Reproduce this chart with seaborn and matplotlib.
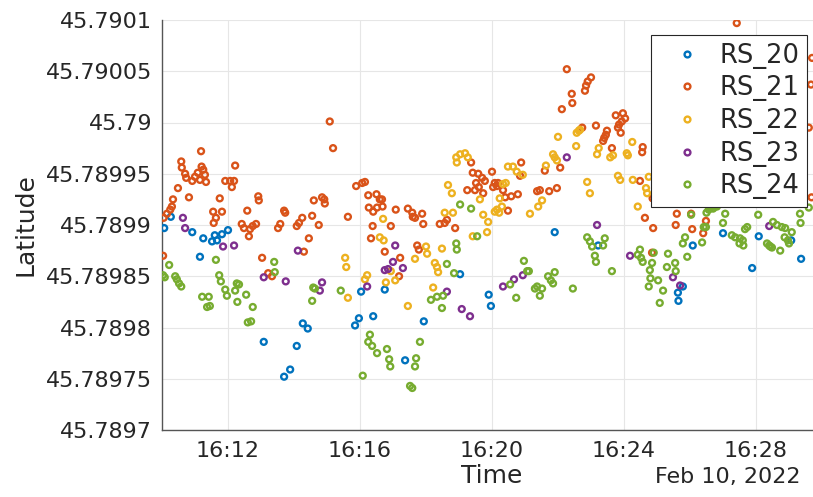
import matplotlib
matplotlib.use("Agg")
import matplotlib.pyplot as plt
import matplotlib.dates as mdates
from matplotlib.lines import Line2D
from matplotlib.ticker import FuncFormatter
import pandas as pd
import seaborn as sns

DAY = "2022-02-10"
SENSORS = ["RS_20", "RS_21", "RS_22", "RS_23", "RS_24"]
COLORS = ["#0072BD", "#D95319", "#EDB120", "#7E2F8E", "#77AC30"]
LAT_TICKS = [45.7897, 45.78975, 45.7898, 45.78985, 45.7899,
             45.78995, 45.79, 45.79005, 45.7901]

rs20_time = ["16:10:04", "16:10:16", "16:10:55", "16:11:15", "16:11:31", "16:11:40",
             "16:11:36", "16:11:49", "16:12:00", "16:11:09", "16:13:05", "16:13:42",
             "16:13:53", "16:14:05", "16:14:16", "16:14:25", "16:15:51", "16:15:58",
             "16:16:02", "16:16:24", "16:16:45", "16:17:22", "16:17:56", "16:19:02",
             "16:19:54", "16:19:58", "16:21:54", "16:23:13", "16:25:38", "16:25:39",
             "16:25:47", "16:26:05", "16:27:00", "16:27:53", "16:28:05", "16:29:04",
             "16:29:22"]
rs20_lat = [45.789897, 45.789908, 45.789893, 45.789887, 45.789884, 45.789885,
            45.789890, 45.789891, 45.789895, 45.789869, 45.789786, 45.789752,
            45.789759, 45.789782, 45.789804, 45.789799, 45.789802, 45.789809,
            45.789835, 45.789811, 45.789837, 45.789768, 45.789806, 45.789852,
            45.789832, 45.789821, 45.789893, 45.789880, 45.789834, 45.789826,
            45.789840, 45.789880, 45.789892, 45.789858, 45.789889, 45.789885,
            45.789867]

rs21_time = ["16:10:02", "16:10:03", "16:10:09", "16:10:15", "16:10:18", "16:10:20",
             "16:10:29", "16:10:35", "16:10:36", "16:10:42", "16:10:44", "16:10:49",
             "16:10:55", "16:11:00", "16:11:05", "16:11:09", "16:11:11", "16:11:12",
             "16:11:15", "16:11:18", "16:11:20", "16:11:33", "16:11:38", "16:11:34",
             "16:11:45", "16:11:49", "16:11:55", "16:12:04", "16:12:11", "16:12:07",
             "16:12:13", "16:12:35", "16:12:55", "16:12:56", "16:12:25", "16:12:29",
             "16:12:38", "16:12:40", "16:12:45", "16:12:51", "16:13:02", "16:13:13",
             "16:13:20", "16:13:31", "16:13:35", "16:13:42", "16:13:44", "16:14:05",
             "16:14:09", "16:14:15", "16:14:27", "16:14:18", "16:14:33", "16:14:36",
             "16:14:45", "16:14:51", "16:14:55", "16:14:56", "16:15:05", "16:15:11",
             "16:15:38", "16:15:53", "16:16:04", "16:16:09", "16:16:15", "16:16:16",
             "16:16:24", "16:16:31", "16:16:23", "16:16:20", "16:16:36", "16:16:30",
             "16:16:45", "16:17:13", "16:17:11", "16:16:56", "16:17:05", "16:16:40",
             "16:16:41", "16:17:27", "16:17:35", "16:17:36", "16:17:40", "16:17:53",
             "16:17:55", "16:17:44", "16:17:47", "16:18:25", "16:18:34", "16:18:38",
             "16:18:53", "16:19:15", "16:19:22", "16:19:25", "16:19:35", "16:19:42",
             "16:19:47", "16:19:31", "16:19:36", "16:19:29", "16:19:44", "16:20:00",
             "16:20:05", "16:20:09", "16:20:02", "16:20:11", "16:20:20", "16:20:24",
             "16:20:29", "16:20:35", "16:20:47", "16:20:53", "16:20:51", "16:21:22",
             "16:21:27", "16:21:44", "16:21:58", "16:22:04", "16:21:36", "16:22:07",
             "16:22:16", "16:22:25", "16:22:26", "16:22:49", "16:22:51", "16:22:54",
             "16:23:00", "16:22:44", "16:23:09", "16:23:22", "16:23:24", "16:23:27",
             "16:23:29", "16:23:45", "16:23:58", "16:24:02", "16:23:56", "16:23:51",
             "16:23:49", "16:23:54", "16:23:38", "16:24:34", "16:24:33", "16:24:29",
             "16:24:38", "16:24:53", "16:24:51", "16:25:36", "16:25:34", "16:26:02",
             "16:26:04", "16:26:29", "16:26:24", "16:27:25", "16:29:42", "16:29:40",
             "16:29:36", "16:29:41", "16:24:52"]
rs21_lat = [45.789870, 45.789907, 45.789911, 45.789915, 45.789918, 45.789925,
            45.789936, 45.789962, 45.789956, 45.789950, 45.789946, 45.789927,
            45.789943, 45.789947, 45.789951, 45.789944, 45.789972, 45.789957,
            45.789954, 45.789949, 45.789942, 45.789913, 45.789907, 45.789902,
            45.789926, 45.789913, 45.789943, 45.789943, 45.789943, 45.789937,
            45.789958, 45.789914, 45.789928, 45.789924, 45.789901, 45.789897,
            45.789889, 45.789896, 45.789899, 45.789901, 45.789868, 45.789853,
            45.789850, 45.789897, 45.789901, 45.789914, 45.789912, 45.789899,
            45.789902, 45.789907, 45.789887, 45.789874, 45.789909, 45.789924,
            45.789900, 45.789927, 45.789925, 45.789921, 45.790001, 45.789975,
            45.789908, 45.789938, 45.789941, 45.789942, 45.789929, 45.789917,
            45.789913, 45.789917, 45.789899, 45.789887, 45.789925, 45.789930,
            45.789874, 45.789868, 45.789850, 45.789899, 45.789915, 45.789925,
            45.789918, 45.789916, 45.789912, 45.789908, 45.789907, 45.789911,
            45.789901, 45.789880, 45.789876, 45.789901, 45.789902, 45.789905,
            45.789897, 45.789934, 45.789961, 45.789951, 45.789950, 45.789946,
            45.789943, 45.789941, 45.789937, 45.789934, 45.789931, 45.789952,
            45.789941, 45.789938, 45.789937, 45.789941, 45.789934, 45.789927,
            45.789914, 45.789928, 45.789930, 45.789961, 45.789948, 45.789933,
            45.789934, 45.789933, 45.789936, 45.789956, 45.789953, 45.790013,
            45.790052, 45.790028, 45.790019, 45.790031, 45.790036, 45.790040,
            45.790044, 45.789995, 45.789997, 45.789982, 45.789985, 45.789988,
            45.789992, 45.790007, 45.790009, 45.790004, 45.790001, 45.789998,
            45.789995, 45.789990, 45.789975, 45.789976, 45.789971, 45.789943,
            45.789907, 45.789897, 45.789873, 45.789911, 45.789900, 45.789911,
            45.789896, 45.789904, 45.789892, 45.790097, 45.790063, 45.790037,
            45.789995, 45.789927, 45.789926]

rs22_time = ["16:15:33", "16:15:35", "16:16:13", "16:16:09", "16:15:38", "16:16:42",
             "16:16:36", "16:16:43", "16:16:47", "16:16:56", "16:17:04", "16:17:27",
             "16:17:40", "16:18:00", "16:18:02", "16:18:29", "16:18:16", "16:18:20",
             "16:18:22", "16:18:13", "16:18:34", "16:18:49", "16:18:40", "16:18:47",
             "16:18:55", "16:19:02", "16:19:11", "16:19:16", "16:18:56", "16:19:25",
             "16:19:38", "16:19:44", "16:19:53", "16:19:51", "16:20:25", "16:20:14",
             "16:20:18", "16:20:09", "16:20:05", "16:20:13", "16:20:29", "16:20:38",
             "16:20:45", "16:20:56", "16:21:09", "16:21:24", "16:21:31", "16:21:38",
             "16:21:51", "16:21:54", "16:21:58", "16:22:00", "16:22:33", "16:22:38",
             "16:22:40", "16:22:34", "16:22:53", "16:22:58", "16:23:11", "16:23:14",
             "16:23:40", "16:23:35", "16:24:05", "16:24:07", "16:24:15", "16:23:49",
             "16:23:53", "16:24:16", "16:24:25", "16:24:40", "16:24:45", "16:24:42",
             "16:20:20"]
rs22_lat = [45.789868, 45.789859, 45.789851, 45.789847, 45.789829, 45.789906,
            45.789888, 45.789885, 45.789844, 45.789855, 45.789846, 45.789821,
            45.789867, 45.789879, 45.789872, 45.789877, 45.789863, 45.789859,
            45.789854, 45.789839, 45.789912, 45.789912, 45.789939, 45.789931,
            45.789966, 45.789969, 45.789970, 45.789966, 45.789961, 45.789889,
            45.789925, 45.789910, 45.789903, 45.789893, 45.789941, 45.789926,
            45.789918, 45.789915, 45.789913, 45.789912, 45.789957, 45.789957,
            45.789952, 45.789949, 45.789911, 45.789918, 45.789924, 45.789958,
            45.789969, 45.789966, 45.789963, 45.789986, 45.789977, 45.789992,
            45.789993, 45.789990, 45.789942, 45.789931, 45.789969, 45.789975,
            45.789968, 45.789966, 45.789970, 45.789968, 45.789981, 45.789948,
            45.789944, 45.789944, 45.789918, 45.789936, 45.789947, 45.789931,
            45.789940]

rs23_time = ["16:10:38", "16:10:42", "16:11:51", "16:12:11", "16:13:05", "16:13:45",
             "16:14:07", "16:14:47", "16:14:51", "16:16:13", "16:16:45", "16:16:51",
             "16:17:04", "16:17:00", "16:17:18", "16:18:38", "16:19:05", "16:19:20",
             "16:20:20", "16:20:40", "16:20:56", "16:22:16", "16:23:11", "16:24:11",
             "16:25:29", "16:25:42", "16:28:24"]
rs23_lat = [45.789907, 45.789897, 45.789879, 45.789880, 45.789849, 45.789845,
            45.789875, 45.789836, 45.789844, 45.789840, 45.789856, 45.789857,
            45.789880, 45.789864, 45.789858, 45.789835, 45.789818, 45.789811,
            45.789840, 45.789847, 45.789851, 45.789966, 45.789900, 45.789870,
            45.789849, 45.789841, 45.789899]

rs24_time = ["16:10:02", "16:10:05", "16:10:13", "16:10:24", "16:10:27", "16:10:31",
             "16:10:35", "16:11:13", "16:11:25", "16:11:22", "16:11:27", "16:11:38",
             "16:11:44", "16:11:47", "16:11:55", "16:11:58", "16:12:13", "16:12:16",
             "16:12:20", "16:12:17", "16:12:33", "16:12:45", "16:12:36", "16:12:42",
             "16:13:24", "16:13:25", "16:14:35", "16:14:38", "16:14:33", "16:15:25",
             "16:16:05", "16:16:15", "16:16:18", "16:16:22", "16:16:31", "16:16:49",
             "16:16:53", "16:16:55", "16:17:31", "16:17:35", "16:17:40", "16:17:42",
             "16:17:49", "16:18:09", "16:18:20", "16:18:31", "16:18:29", "16:18:38",
             "16:18:51", "16:18:55", "16:18:56", "16:19:02", "16:19:22", "16:19:33",
             "16:20:33", "16:20:44", "16:20:58", "16:21:04", "16:21:07", "16:21:18",
             "16:21:22", "16:21:27", "16:21:31", "16:21:42", "16:21:47", "16:21:51",
             "16:21:54", "16:22:27", "16:22:53", "16:22:58", "16:23:02", "16:23:07",
             "16:23:09", "16:23:22", "16:23:25", "16:23:38", "16:24:25", "16:24:31",
             "16:24:34", "16:24:29", "16:24:54", "16:24:51", "16:24:47", "16:24:48",
             "16:24:45", "16:25:02", "16:25:11", "16:25:05", "16:25:18", "16:25:20",
             "16:25:33", "16:25:34", "16:25:47", "16:25:51", "16:25:55", "16:26:22",
             "16:26:25", "16:26:29", "16:26:02", "16:26:30", "16:26:34", "16:26:38",
             "16:26:42", "16:26:45", "16:26:49", "16:27:04", "16:27:00", "16:27:16",
             "16:27:22", "16:27:31", "16:27:36", "16:27:37", "16:27:30", "16:27:40",
             "16:27:44", "16:28:04", "16:28:20", "16:28:24", "16:28:26", "16:28:29",
             "16:28:31", "16:28:38", "16:28:47", "16:28:53", "16:28:44", "16:28:52",
             "16:28:58", "16:29:00", "16:29:05", "16:29:20", "16:29:21", "16:29:36"]
rs24_lat = [45.789851, 45.789849, 45.789861, 45.789850, 45.789847, 45.789843,
            45.789840, 45.789830, 45.789830, 45.789820, 45.789821, 45.789866,
            45.789851, 45.789845, 45.789837, 45.789831, 45.789836, 45.789843,
            45.789842, 45.789825, 45.789832, 45.789820, 45.789805, 45.789806,
            45.789864, 45.789854, 45.789839, 45.789838, 45.789826, 45.789836,
            45.789753, 45.789786, 45.789793, 45.789782, 45.789775, 45.789779,
            45.789769, 45.789762, 45.789743, 45.789741, 45.789762, 45.789770,
            45.789786, 45.789827, 45.789830, 45.789831, 45.789819, 45.789862,
            45.789853, 45.789882, 45.789876, 45.789920, 45.789916, 45.789889,
            45.789842, 45.789829, 45.789865, 45.789855, 45.789855, 45.789838,
            45.789840, 45.789831, 45.789838, 45.789850, 45.789846, 45.789843,
            45.789854, 45.789838, 45.789888, 45.789884, 45.789879, 45.789870,
            45.789864, 45.789880, 45.789887, 45.789855, 45.789871, 45.789868,
            45.789864, 45.789876, 45.789873, 45.789863, 45.789856, 45.789848,
            45.789840, 45.789846, 45.789836, 45.789824, 45.789859, 45.789872,
            45.789863, 45.789855, 45.789882, 45.789888, 45.789869, 45.789883,
            45.789898, 45.789898, 45.789910, 45.789912, 45.789915, 45.789917,
            45.789916, 45.789918, 45.789918, 45.789911, 45.789902, 45.789890,
            45.789888, 45.789887, 45.789885, 45.789880, 45.789882, 45.789896,
            45.789898, 45.789910, 45.789882, 45.789880, 45.789879, 45.789878,
            45.789903, 45.789900, 45.789898, 45.789897, 45.789875, 45.789888,
            45.789885, 45.789882, 45.789893, 45.789911, 45.789902, 45.789917]

series = {
    "RS_20": (rs20_time, rs20_lat),
    "RS_21": (rs21_time, rs21_lat),
    "RS_22": (rs22_time, rs22_lat),
    "RS_23": (rs23_time, rs23_lat),
    "RS_24": (rs24_time, rs24_lat),
}
frames = []
for name in SENSORS:
    times, lats = series[name]
    frames.append(pd.DataFrame({
        "time": pd.to_datetime([f"{DAY} {t}" for t in times]),
        "lat": lats,
        "sensor": name,
    }))
df = pd.concat(frames, ignore_index=True)

sns.set_theme(style="white")
plt.rcParams["font.family"] = ["DejaVu Sans"]

fig = plt.figure(figsize=(8.13, 4.97), dpi=100)
ax = fig.add_axes([162 / 813, 67 / 497, 660 / 813, 410 / 497])

sns.scatterplot(data=df, x="time", y="lat", hue="sensor", hue_order=SENSORS,
                palette=COLORS, s=18, linewidth=1.7, legend=False, ax=ax, zorder=3)

# hollow circle markers
pts = ax.collections[-1]
fc = pts.get_facecolors()
pts.set_edgecolors(fc)
pts.set_facecolors("none")

ax.set_xlim(pd.Timestamp(f"{DAY} 16:10:00"), pd.Timestamp(f"{DAY} 16:30:00"))
ax.set_ylim(LAT_TICKS[0], LAT_TICKS[-1])
ax.set_yticks(LAT_TICKS)
ax.yaxis.set_major_formatter(FuncFormatter(lambda v, _: f"{v:.5f}".rstrip("0").rstrip(".")))
ax.xaxis.set_major_locator(mdates.MinuteLocator(byminute=range(0, 60, 4)))
ax.xaxis.set_major_formatter(mdates.DateFormatter("%H:%M"))

ax.grid(True, color="#e6e6e6", linewidth=0.8)
ax.set_axisbelow(True)
for side in ("top", "right"):
    ax.spines[side].set_visible(False)
for side in ("left", "bottom"):
    ax.spines[side].set_color("#555555")
    ax.spines[side].set_linewidth(1.0)

ax.tick_params(axis="both", direction="in", length=5, width=0.8,
               color="#555555", labelcolor="#262626", labelsize=16)
ax.tick_params(axis="y", pad=7)
ax.tick_params(axis="x", pad=8)

ax.set_xlabel("Time", fontsize=18, color="#262626", labelpad=2)
ax.set_ylabel("Latitude", fontsize=18, color="#262626", labelpad=6)
fig.text(800 / 813, (497 - 467) / 497, "Feb 10, 2022", ha="right", va="top",
         fontsize=16, color="#262626")

handles = [Line2D([], [], marker="o", linestyle="", markerfacecolor="none",
                  markeredgecolor=c, markeredgewidth=1.7, markersize=4.2)
           for c in COLORS]
leg = ax.legend(handles, SENSORS, loc="upper right",
                bbox_to_anchor=(807 / 813, (497 - 35) / 497),
                bbox_transform=fig.transFigure, borderaxespad=0,
                fontsize=18.5, frameon=True, fancybox=False, framealpha=1,
                edgecolor="#262626", borderpad=0.3, labelspacing=0.26,
                handlelength=2.2, handletextpad=0.15)
leg.get_frame().set_linewidth(0.8)
leg.set_zorder(10)

fig.savefig("out.png", dpi=100)
